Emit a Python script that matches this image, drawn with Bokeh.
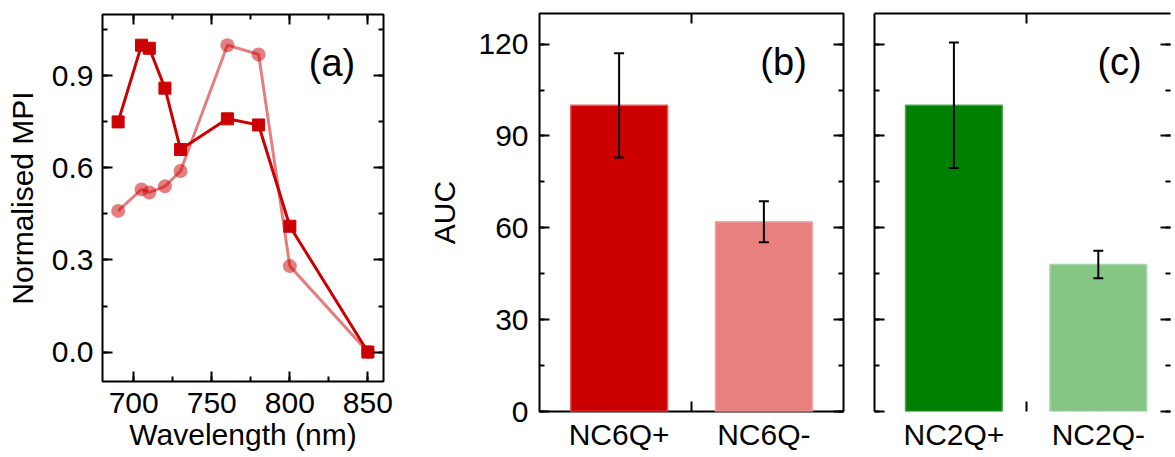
from bokeh.plotting import figure
from bokeh.models import (LinearAxis, SingleIntervalTicker, FixedTicker, Whisker, TeeHead,
                          ColumnDataSource, Label, Range1d, PrintfTickFormatter,
                          CustomLabelingPolicy)
from bokeh.embed import file_html
from bokeh.resources import INLINE

# ---------------- data ----------------
wavelength = [690, 705, 710, 720, 730, 760, 780, 800, 850]
mpi_square = [0.75, 1.00, 0.99, 0.86, 0.66, 0.76, 0.74, 0.41, 0.00]
mpi_circle = [0.46, 0.53, 0.52, 0.54, 0.59, 1.00, 0.97, 0.28, 0.00]

cats_b = ["NC6Q+", "NC6Q-"]
auc_b = [100, 62]
err_b = [17, 6.7]

cats_c = ["NC2Q+", "NC2Q-"]
auc_c = [100, 48]
err_c = [20.5, 4.5]

# ---------------- styles ----------------
FONT = "Liberation Sans"
TICK_FS = "30px"
LABEL_FS = "30px"
PANEL_FS = "38px"
RED = "#CC0000"
colors_b = ["#CC0000", "#E88080"]
edges_b = ["#E06060", "#F0A8A8"]
colors_c = ["#008000", "#85C685"]
edges_c = ["#50A050", "#A8D8A8"]


def style_axis(ax, show_labels=True, axis_line=False, standoff=9):
    ax.axis_line_color = "black" if axis_line else None
    ax.axis_line_width = 2
    ax.major_tick_in = 10
    ax.major_tick_out = 0
    ax.minor_tick_in = 5
    ax.minor_tick_out = 0
    ax.major_tick_line_width = 2
    ax.minor_tick_line_width = 2
    ax.major_tick_line_color = "black"
    ax.minor_tick_line_color = "black"
    ax.major_label_text_font = FONT
    ax.major_label_text_color = "black"
    ax.axis_label_text_font = FONT
    ax.axis_label_text_font_style = "normal"
    ax.axis_label_text_color = "black"
    ax.axis_label_text_font_size = LABEL_FS
    if show_labels:
        ax.major_label_text_font_size = TICK_FS
        ax.major_label_standoff = standoff
    else:
        # tick marks only: no tick labels are drawn on this side
        ax.major_label_policy = CustomLabelingPolicy(code="return []")
        ax.major_label_text_font_size = "1px"
        ax.major_label_standoff = 0


def base_fig(width, height, x_range, y_range, mb):
    p = figure(width=width, height=height, x_range=x_range, y_range=y_range,
               output_backend="svg", toolbar_location=None,
               min_border_left=mb[0], min_border_right=mb[1],
               min_border_top=mb[2], min_border_bottom=mb[3])
    p.grid.visible = False
    p.outline_line_color = "black"
    p.outline_line_width = 2
    p.background_fill_color = "white"
    p.border_fill_color = "white"
    p.styles = {"float": "left"}
    return p


# ---------------- panel (a) ----------------
pa = base_fig(420, 457, Range1d(680, 860), Range1d(-0.096, 1.10), (102, 37, 14, 76))
pa.xaxis.ticker = SingleIntervalTicker(interval=50, num_minor_ticks=2)
pa.yaxis.ticker = SingleIntervalTicker(interval=0.3, num_minor_ticks=2)
pa.yaxis.formatter = PrintfTickFormatter(format="%.1f")
style_axis(pa.xaxis[0], standoff=11)
style_axis(pa.yaxis[0], standoff=9)
pa.xaxis.axis_label = "Wavelength (nm)"
pa.yaxis.axis_label = "Normalised MPI"
pa.xaxis.axis_label_standoff = 2
pa.yaxis.axis_label_standoff = 10
top_a = LinearAxis(ticker=SingleIntervalTicker(interval=50, num_minor_ticks=2))
style_axis(top_a, False)
pa.add_layout(top_a, "above")
right_a = LinearAxis(ticker=SingleIntervalTicker(interval=0.3, num_minor_ticks=2))
style_axis(right_a, False)
pa.add_layout(right_a, "right")

src_a = ColumnDataSource(dict(x=wavelength, sq=mpi_square, ci=mpi_circle))
pa.line("x", "sq", source=src_a, line_color=RED, line_width=3)
pa.scatter("x", "sq", source=src_a, marker="square", size=12, fill_color=RED, line_color=RED)
pa.line("x", "ci", source=src_a, line_color=RED, line_width=3, line_alpha=0.5)
pa.scatter("x", "ci", source=src_a, marker="circle", size=14, fill_color=RED,
           line_color=None, fill_alpha=0.5)
pa.add_layout(Label(x=827, y=0.942, text="(a)", text_font=FONT, text_font_size=PANEL_FS,
                    text_align="center", text_baseline="middle", text_color="black"))


# ---------------- bar panels ----------------
def bar_panel(width, cats, vals, errs, fills, edges, mb, xr, show_left, ylabel, tag, tag_x):
    p = base_fig(width, 457, Range1d(*xr), Range1d(0, 130), mb)
    pos = list(range(1, len(cats) + 1))
    p.yaxis.ticker = SingleIntervalTicker(interval=30, num_minor_ticks=2)
    style_axis(p.yaxis[0], show_left, standoff=11)
    if ylabel:
        p.yaxis.axis_label = ylabel
        p.yaxis.axis_label_standoff = 14
    p.xaxis.ticker = FixedTicker(ticks=pos, minor_ticks=[1.5])
    p.xaxis.major_label_overrides = {k: c for k, c in zip(pos, cats)}
    style_axis(p.xaxis[0], standoff=6)
    p.xaxis.major_tick_in = 0
    p.xaxis.minor_tick_in = 10
    p.xaxis.major_label_text_font_size = LABEL_FS
    top = LinearAxis(ticker=FixedTicker(ticks=[1.5]))
    style_axis(top, False)
    p.add_layout(top, "above")
    right = LinearAxis(ticker=SingleIntervalTicker(interval=30, num_minor_ticks=2))
    style_axis(right, False)
    p.add_layout(right, "right")

    src = ColumnDataSource(dict(x=pos, top=vals,
                                upper=[v + e for v, e in zip(vals, errs)],
                                lower=[v - e for v, e in zip(vals, errs)],
                                fill=fills, edge=edges))
    p.vbar(x="x", top="top", width=0.67, source=src, fill_color="fill",
           line_color="edge", line_width=1.5)
    w = Whisker(base="x", upper="upper", lower="lower", source=src, level="annotation",
                line_color="black", line_width=2,
                upper_head=TeeHead(size=10, line_width=2, line_color="black"),
                lower_head=TeeHead(size=10, line_width=2, line_color="black"))
    p.add_layout(w)
    p.add_layout(Label(x=tag_x, y=114, text=tag, text_font=FONT, text_font_size=PANEL_FS,
                       text_align="center", text_baseline="middle", text_color="black"))
    return p, top, right


pb, _, _ = bar_panel(438, cats_b, auc_b, err_b, colors_b, edges_b, (119, 15, 13, 46),
                     (0.45, 2.55), True, "AUC", "(b)", 2.136)

pc, top_c, right_c = bar_panel(317, cats_c, auc_c, err_c, colors_c, edges_c, (16, 0, 13, 46),
                               (0.45, 2.50), False, None, "(c)", 2.147)
pc.outline_line_color = None
pc.yaxis[0].axis_line_color = "black"
pc.xaxis[0].axis_line_color = "black"
top_c.axis_line_color = "black"

open("out.html", "w").write(file_html([pa, pb, pc], INLINE))
